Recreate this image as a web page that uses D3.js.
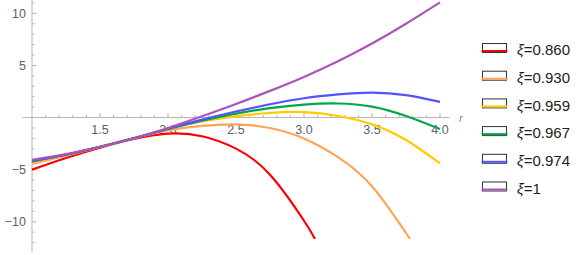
<!DOCTYPE html>
<html>
<head>
<meta charset="utf-8">
<script src="https://cdn.jsdelivr.net/npm/d3@7"></script>
<style>
  body { margin: 0; background: #fff; }
  svg { display: block; font-family: "Liberation Sans", Arial, sans-serif; }
</style>
</head>
<body>
<div id="chart"></div>
<script>
var width = 582;
var height = 255;

// legend labels and colours, one per curve
var xiLabels = ["0.860", "0.930", "0.959", "0.967", "0.974", "1"];
var colors = ["#ff0000", "#ffa458", "#ffcc00", "#00a84a", "#5252ff", "#aa55b9"];

// [r, value] pairs
var red    = [[1,-5.0],[1.25,-3.88],[1.5,-2.88],[1.75,-2.05],[2,-1.55],[2.25,-1.79],[2.5,-2.98],[2.75,-5.48],[3,-9.9],[3.08,-11.66]];
var orange = [[1,-4.45],[1.25,-3.65],[1.5,-2.82],[1.75,-1.99],[2,-1.24],[2.25,-0.8],[2.5,-0.65],[2.75,-1.0],[3,-2.0],[3.25,-3.8],[3.5,-6.6],[3.78,-11.66]];
var yellow = [[1,-4.3],[1.25,-3.6],[1.5,-2.8],[1.75,-1.98],[2,-1.12],[2.25,-0.38],[2.5,0.12],[2.75,0.45],[3,0.52],[3.25,0.15],[3.5,-0.65],[3.75,-2.15],[4,-4.4]];
var green  = [[1,-4.2],[1.25,-3.57],[1.5,-2.8],[1.75,-1.97],[2,-1.1],[2.25,-0.3],[2.5,0.38],[2.75,0.9],[3,1.25],[3.25,1.35],[3.5,1.05],[3.75,0.15],[4,-1.1]];
var blue   = [[1,-4.15],[1.25,-3.55],[1.5,-2.8],[1.75,-1.98],[2,-1.07],[2.25,-0.2],[2.5,0.58],[2.75,1.28],[3,1.85],[3.25,2.22],[3.5,2.4],[3.75,2.15],[4,1.5]];
var purple = [[1,-4.05],[1.25,-3.5],[1.5,-2.8],[1.75,-1.98],[2,-1.0],[2.25,0.12],[2.5,1.3],[2.75,2.56],[3,3.9],[3.25,5.4],[3.5,7.1],[3.75,9.0],[4,11.05]];
var series = [red, orange, yellow, green, blue, purple];

var xTicks = [1.5, 2.0, 2.5, 3.0, 3.5, 4.0];
var yTicks = [-10, -5, 5, 10];

var x = d3.scaleLinear().domain([1, 4]).range([32, 440]);
var y = d3.scaleLinear().domain([-12.9, 11.28]).range([252, 0]);

var axisColor = "#b5b5b5";
var labelColor = "#606060";

const svg = d3.select("#chart")
    .append("svg")
    .attr("width", width)
    .attr("height", height);

// axes lines
svg.append("line")
    .attr("x1", x(0.93)).attr("x2", x(4.07))
    .attr("y1", y(0)).attr("y2", y(0))
    .attr("stroke", axisColor).attr("stroke-width", 1);
svg.append("line")
    .attr("x1", x(1)).attr("x2", x(1))
    .attr("y1", y(11.28)).attr("y2", y(-12.9))
    .attr("stroke", axisColor).attr("stroke-width", 1);

// x ticks, minor every 0.1
var xMinor = d3.range(11, 41).map(d => d / 10);
svg.append("g").selectAll("line")
    .data(xMinor)
    .join("line")
    .attr("x1", d => x(d)).attr("x2", d => x(d))
    .attr("y1", y(0))
    .attr("y2", d => y(0) - (Math.abs(d * 2 - Math.round(d * 2)) < 1e-6 ? 4.5 : 2.5))
    .attr("stroke", axisColor);

// y ticks, minor every 1
var yMinor = d3.range(-12, 12).filter(d => d !== 0);
svg.append("g").selectAll("line")
    .data(yMinor)
    .join("line")
    .attr("x1", x(1))
    .attr("x2", d => x(1) + (d % 5 === 0 ? 4.5 : 2.5))
    .attr("y1", d => y(d)).attr("y2", d => y(d))
    .attr("stroke", axisColor);

// tick labels
svg.append("g").selectAll("text")
    .data(xTicks)
    .join("text")
    .attr("x", d => x(d))
    .attr("y", y(0) + 16)
    .attr("text-anchor", "middle")
    .attr("font-size", 12.5)
    .attr("fill", labelColor)
    .text(d => d.toFixed(1));

svg.append("g").selectAll("text")
    .data(yTicks)
    .join("text")
    .attr("x", x(1) - 6)
    .attr("y", d => y(d))
    .attr("dy", "0.36em")
    .attr("text-anchor", "end")
    .attr("font-size", 12.5)
    .attr("fill", labelColor)
    .text(d => d < 0 ? "\u2212" + Math.abs(d) : d);

svg.append("text")
    .attr("x", 459)
    .attr("y", y(0) + 4)
    .attr("font-size", 11)
    .attr("font-style", "italic")
    .attr("fill", "#888")
    .text("r");

// curves, clipped to plot range
svg.append("clipPath").attr("id", "plotclip")
    .append("rect")
    .attr("x", 0).attr("y", 0)
    .attr("width", width).attr("height", y(-11.66));

var line = d3.line()
    .x(d => x(d[0]))
    .y(d => y(d[1]))
    .curve(d3.curveNatural);

svg.append("g")
    .attr("clip-path", "url(#plotclip)")
    .selectAll("path")
    .data(series)
    .join("path")
    .attr("d", line)
    .attr("fill", "none")
    .attr("stroke", (d, i) => colors[i])
    .attr("stroke-width", 2.2);

// legend
var legend = svg.append("g").selectAll("g")
    .data(xiLabels)
    .join("g")
    .attr("transform", (d, i) => `translate(0,${50 + i * 27.7})`);

legend.append("rect")
    .attr("x", 482.5).attr("y", -6.5)
    .attr("width", 24).attr("height", 9)
    .attr("fill", "#fff")
    .attr("stroke", "#333")
    .attr("stroke-width", 1);

legend.append("line")
    .attr("x1", 481.5).attr("x2", 507.5)
    .attr("y1", 1).attr("y2", 1)
    .attr("stroke", (d, i) => colors[i])
    .attr("stroke-width", 2);

var lt = legend.append("text")
    .attr("x", 517)
    .attr("y", 0)
    .attr("dy", "0.35em")
    .attr("font-size", 15)
    .attr("fill", "#222");
lt.append("tspan").attr("font-style", "italic").text("\u03be");
lt.append("tspan").text(d => "=" + d);
</script>
</body>
</html>
